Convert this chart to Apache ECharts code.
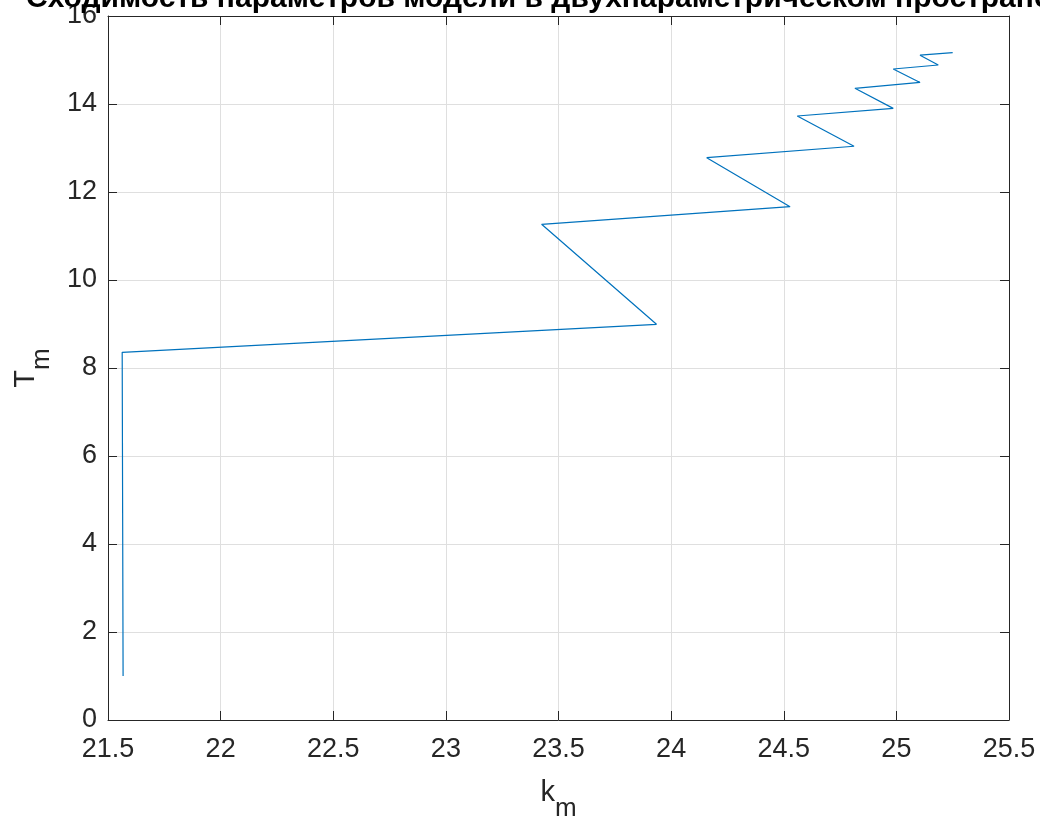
<!DOCTYPE html>
<html>
<head>
<meta charset="utf-8">
<script src="https://cdn.jsdelivr.net/npm/echarts@6/dist/echarts.min.js"></script>
<style>
html,body{margin:0;padding:0;background:#fff;}
#chart{width:1040px;height:817px;}
</style>
</head>
<body>
<div id="chart"></div>
<script>
const titleText = 'Сходимость параметров модели в двухпараметрическом пространстве';
const kmValues = [21.567, 21.565, 21.563, 23.935, 23.425, 24.528, 24.158, 24.812, 24.560, 24.986, 24.816, 25.105, 24.986, 25.186, 25.105, 25.250];
const tmValues = [1.00, 4.70, 8.357, 8.993, 11.266, 11.666, 12.780, 13.040, 13.727, 13.900, 14.356, 14.490, 14.795, 14.886, 15.110, 15.166];
const xTicks = {min: 21.5, max: 25.5, interval: 0.5};
const yTicks = {min: 0, max: 16, interval: 2};

const pts = kmValues.map((k, i) => [k, tmValues[i]]);
const axisColor = '#262626';
const gridColor = '#dfdfdf';
const font = 'Liberation Sans, Arial, Helvetica, sans-serif';

const chart = echarts.init(document.getElementById('chart'), null, {renderer: 'canvas'});
const baseX = {
  type: 'value', min: xTicks.min, max: xTicks.max, interval: xTicks.interval,
  axisLine: {show: true, onZero: false, lineStyle: {color: axisColor, width: 1}},
  axisTick: {show: true, inside: true, length: 9, lineStyle: {color: axisColor}},
};
const baseY = {
  type: 'value', min: yTicks.min, max: yTicks.max, interval: yTicks.interval,
  axisLine: {show: true, onZero: false, lineStyle: {color: axisColor, width: 1}},
  axisTick: {show: true, inside: true, length: 9, lineStyle: {color: axisColor}},
};
chart.setOption({
  backgroundColor: '#ffffff',
  animation: false,
  title: {
    text: titleText, left: 558, top: -21, textAlign: 'center',
    textStyle: {fontFamily: font, fontWeight: 'bold', fontSize: 30, color: '#000'}
  },
  grid: {left: 108, right: 31, top: 16, bottom: 97, containLabel: false, outerBoundsMode: 'none'},
  xAxis: [
    Object.assign({}, baseX, {
      position: 'bottom',
      axisLabel: {show: true, color: axisColor, fontFamily: font, fontSize: 27, margin: 16},
      splitLine: {show: true, lineStyle: {color: gridColor, width: 1}},
      name: '{k|k}{m|m}', nameLocation: 'middle', nameGap: 58,
      nameTextStyle: {
        rich: {
          k: {fontFamily: font, fontSize: 29, color: axisColor, lineHeight: 30, verticalAlign: 'top'},
          m: {fontFamily: font, fontSize: 26, color: axisColor, padding: [18, 0, 0, 0], verticalAlign: 'top', lineHeight: 30}
        }
      }
    }),
    Object.assign({}, baseX, {
      position: 'top', axisLabel: {show: false}, splitLine: {show: false}
    })
  ],
  yAxis: [
    Object.assign({}, baseY, {
      position: 'left',
      axisLabel: {show: true, color: axisColor, fontFamily: font, fontSize: 27, margin: 11},
      splitLine: {show: true, lineStyle: {color: gridColor, width: 1}},
      name: '{t|T}{m|m}', nameLocation: 'middle', nameGap: 67, nameRotate: 90,
      nameTextStyle: {
        rich: {
          t: {fontFamily: font, fontSize: 29, color: axisColor, lineHeight: 30, verticalAlign: 'top'},
          m: {fontFamily: font, fontSize: 26, color: axisColor, padding: [18, 0, 0, 0], verticalAlign: 'top', lineHeight: 30}
        }
      }
    }),
    Object.assign({}, baseY, {
      position: 'right', axisLabel: {show: false}, splitLine: {show: false}
    })
  ],
  series: [{
    type: 'line', data: pts, xAxisIndex: 0, yAxisIndex: 0,
    showSymbol: false, symbol: 'none', smooth: false,
    lineStyle: {color: '#0072BD', width: 1.2},
    z: 5
  }]
});
</script>
</body>
</html>
